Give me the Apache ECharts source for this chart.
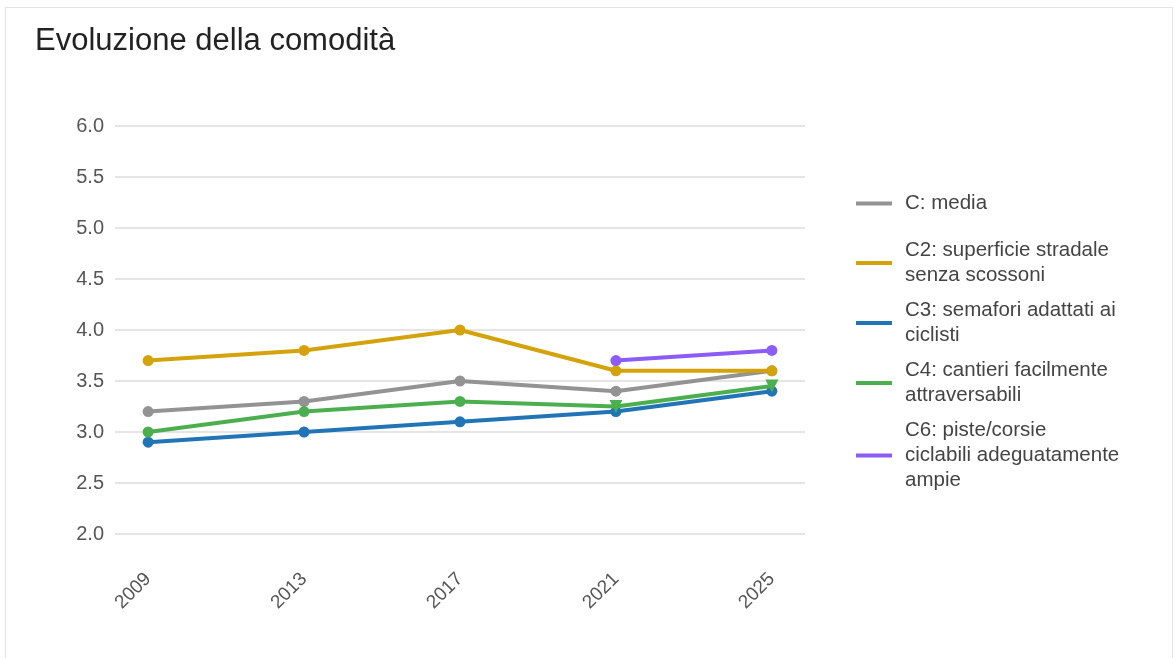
<!DOCTYPE html>
<html>
<head>
<meta charset="utf-8">
<script src="https://cdn.jsdelivr.net/npm/echarts@6/dist/echarts.min.js"></script>
<style>
html,body{margin:0;padding:0;background:#fff;}
#frame{position:absolute;left:5px;top:7px;width:1168px;height:700px;border:1px solid #e3e3e3;box-sizing:border-box;}
#chart{position:absolute;left:0;top:0;width:1175px;height:658px;}
</style>
</head>
<body>
<div id="frame"></div>
<div id="chart"></div>
<script>
const years = [2009, 2013, 2017, 2021, 2025];
const yTicks = [2.0, 2.5, 3.0, 3.5, 4.0, 4.5, 5.0, 5.5, 6.0];
const seriesNames = [
  'C: media',
  'C2: superficie stradale senza scossoni',
  'C3: semafori adattati ai ciclisti',
  'C4: cantieri facilmente attraversabili',
  'C6: piste/corsie ciclabili adeguatamente ampie'
];
const legendLabels = [
  'C: media',
  'C2: superficie stradale\nsenza scossoni',
  'C3: semafori adattati ai\nciclisti',
  'C4: cantieri facilmente\nattraversabili',
  'C6: piste/corsie\nciclabili adeguatamente\nampie'
];
const cMedia = [3.2, 3.3, 3.5, 3.4, 3.6];
const c2 = [3.7, 3.8, 4.0, 3.6, 3.6];
const c3 = [2.9, 3.0, 3.1, 3.2, 3.4];
const c4 = [3.0, 3.2, 3.3, 3.25, 3.45];
const c6 = [null, null, null, 3.7, 3.8];
const colors = ['#939393', '#D4A20A', '#2174B6', '#4BAF4F', '#8B5CF6'];
const c4Symbols = ['circle', 'circle', 'circle', 'triangle', 'triangle'];

const allData = [cMedia, c2, c3, c4, c6];
const labelMap = {};
seriesNames.forEach((n, i) => labelMap[n] = legendLabels[i]);

const FONT = 'Liberation Sans, Arial, sans-serif';

const series = allData.map((vals, i) => ({
  name: seriesNames[i],
  type: 'line',
  data: years.map((y, j) => {
    if (vals[j] === null) return [y, null];
    if (i === 3 && c4Symbols[j] === 'triangle') {
      return { value: [y, vals[j]], symbol: 'triangle', symbolRotate: 180, symbolSize: 13 };
    }
    return [y, vals[j]];
  }),
  connectNulls: false,
  symbol: 'circle',
  symbolSize: 11,
  showSymbol: true,
  lineStyle: { width: 4, color: colors[i] },
  itemStyle: { color: colors[i] },
  emphasis: { disabled: true },
  z: 2 + i
}));

const legendCommon = {
  orient: 'vertical',
  left: 851,
  icon: 'rect',
  itemWidth: 36,
  itemHeight: 4,
  itemGap: 10,
  textStyle: { fontFamily: FONT, fontSize: 20.5, color: '#444', lineHeight: 25, padding: [0, 0, 0, 8] },
  formatter: n => labelMap[n],
  selectedMode: false
};

const chart = echarts.init(document.getElementById('chart'), null, { renderer: 'canvas' });
chart.setOption({
  animation: false,
  color: colors,
  title: {
    text: 'Evoluzione della comodità',
    left: 30,
    top: 21,
    textStyle: { fontFamily: FONT, fontSize: 31, fontWeight: 'normal', color: '#222' }
  },
  legend: [
    Object.assign({}, legendCommon, { top: 186, data: [seriesNames[0]] }),
    Object.assign({}, legendCommon, { top: 233, data: seriesNames.slice(1) })
  ],
  grid: { left: 115, right: 370, top: 126, bottom: 124, containLabel: false },
  xAxis: {
    type: 'value',
    min: 2008.15,
    max: 2025.85,
    axisLine: { show: false },
    axisTick: { show: false },
    splitLine: { show: false },
    axisLabel: {
      customValues: years,
      rotate: 45,
      margin: 42,
      fontFamily: FONT,
      fontSize: 19,
      color: '#555',
      formatter: v => String(v)
    }
  },
  yAxis: {
    type: 'value',
    min: yTicks[0],
    max: yTicks[yTicks.length - 1],
    interval: 0.5,
    axisLine: { show: false },
    axisTick: { show: false },
    splitLine: { lineStyle: { color: '#dcdcdc', width: 1.5 } },
    axisLabel: {
      margin: 11,
      fontFamily: FONT,
      fontSize: 20,
      color: '#555',
      formatter: v => v.toFixed(1)
    }
  },
  series: series
});
</script>
</body>
</html>
